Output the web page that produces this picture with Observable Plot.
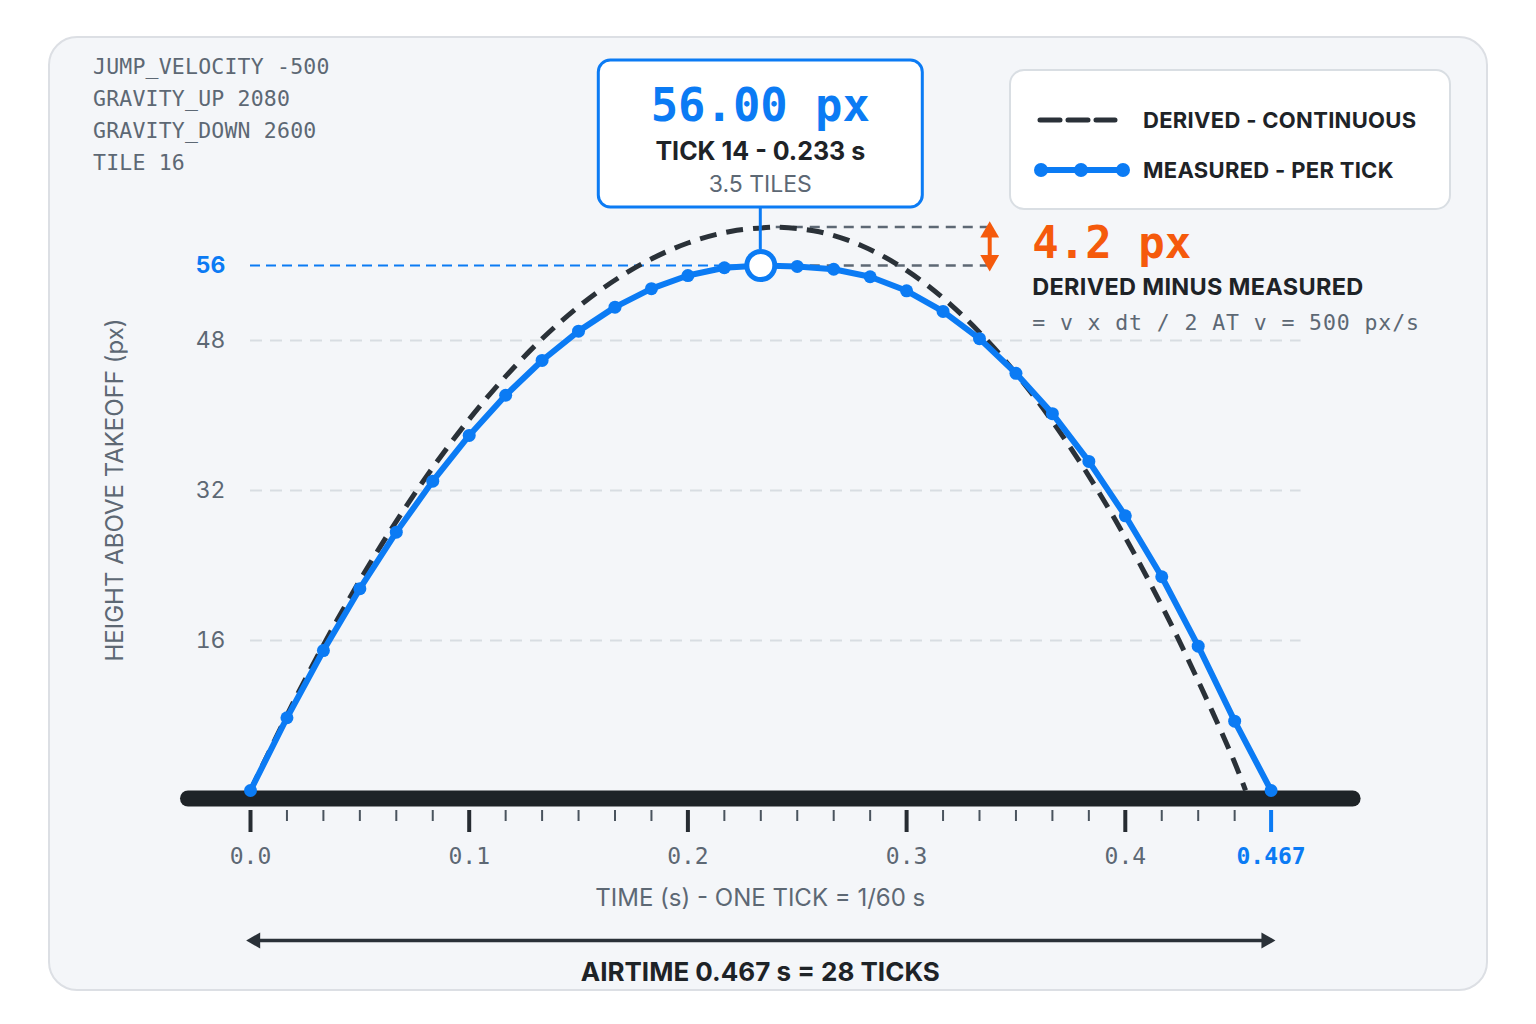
<!DOCTYPE html>
<html>
<head>
<meta charset="utf-8">
<script src="https://cdn.jsdelivr.net/npm/d3@7"></script>
<script src="https://cdn.jsdelivr.net/npm/@observablehq/plot@0.6"></script>
<style>
  html, body { margin: 0; padding: 0; background: #ffffff; }
  #wrap { position: relative; width: 1536px; height: 1024px; overflow: hidden; }
</style>
</head>
<body>
<div id="wrap"></div>
<script>
// ---------- data ----------
const TICKS_PER_SECOND = 60;
const params = ["JUMP_VELOCITY -500", "GRAVITY_UP 2080", "GRAVITY_DOWN 2600", "TILE 16"];

// measured height per tick (px above takeoff)
const measuredTick = [0,1,2,3,4,5,6,7,8,9,10,11,12,13,14,15,16,17,18,19,20,21,22,23,24,25,26,27,28];
const measuredPx   = [0,7.76,14.93,21.53,27.56,33.0,37.87,42.16,45.87,49.0,51.56,53.53,54.93,55.76,56.0,
                      55.9,55.6,54.8,53.3,51.1,48.2,44.5,40.2,35.1,29.3,22.8,15.4,7.4,0];

// derived continuous curve (time s, px)
const derivedT  = [0,0.02,0.04,0.06,0.08,0.10,0.12,0.14,0.16,0.18,0.20,0.22,0.24,0.2404,
                   0.26,0.28,0.30,0.32,0.34,0.36,0.38,0.40,0.42,0.44,0.45,0.455];
const derivedPx = [0,9.58,18.34,26.26,33.34,39.6,45.02,49.62,53.38,56.30,58.4,59.66,60.10,60.1,
                   59.60,58.06,55.48,51.86,47.20,41.50,34.77,26.99,18.17,8.31,2.99,0];

// axis ticks
const yGridTicks = [16, 32, 48];
const yPeakTick = [56];
const xMajorTicks = [0, 0.1, 0.2, 0.3, 0.4];
const xMinorTickIdx = [1,2,3,4,5,7,8,9,10,11,13,14,15,16,17,19,20,21,22,23,25,26,27];
const airtimeTick = 28;

// annotations
const peakTick = 14, peakPx = 56.0;
const derivedPeakT = 0.2404, derivedPeakPx = 60.1;
const gapT = 0.338;
const calloutValue = "56.00 px";
const calloutTick = "TICK 14 - 0.233 s";
const calloutTiles = "3.5 TILES";
const gapValue = "4.2 px";
const gapTitle = "DERIVED MINUS MEASURED";
const gapFormula = "= v x dt / 2 AT v = 500 px/s";
const legendLabels = ["DERIVED - CONTINUOUS", "MEASURED - PER TICK"];
const yTitle = "HEIGHT ABOVE TAKEOFF (px)";
const xTitle = "TIME (s) - ONE TICK = 1/60 s";
const airtimeTitle = "AIRTIME 0.467 s = 28 TICKS";

// ---------- styles ----------
const BLUE = "#0b7bf4", DARK = "#262c32", GRAY = "#5d6874", LIGHT = "#d8dde2", ORANGE = "#f55a0c";
const MONO = "'DejaVu Sans Mono', 'Liberation Mono', monospace";
const SANS = "Inter, 'Noto Sans', sans-serif";

const measured = measuredTick.map((k, i) => ({t: k / TICKS_PER_SECOND, px: measuredPx[i]}));
const derived = derivedT.map((t, i) => ({t, px: derivedPx[i]}));
const airT = airtimeTick / TICKS_PER_SECOND;
const peakT = peakTick / TICKS_PER_SECOND;
const minorTicks = xMinorTickIdx.map(k => k / TICKS_PER_SECOND);

const chart = Plot.plot({
  width: 1536,
  height: 1024,
  marginLeft: 250,
  marginRight: 1536 - 1270.6,
  marginTop: 265,
  marginBottom: 1024 - 790,
  style: {background: "none", fontFamily: MONO, fontSize: "23px", overflow: "visible"},
  x: {domain: [0, airT], axis: null},
  y: {domain: [0, 56], axis: null},
  marks: [
    // grid
    Plot.gridY(yGridTicks, {stroke: LIGHT, strokeOpacity: 1, strokeWidth: 2, strokeDasharray: "12,8", insetRight: -30}),
    Plot.ruleY(yPeakTick.map(y => ({y, x1: 0, x2: peakT})), {y: "y", x1: "x1", x2: "x2", stroke: BLUE, strokeWidth: 2, strokeDasharray: "10,6"}),
    // gap reference lines
    Plot.ruleY([{y: derivedPeakPx}, {y: peakPx}], {y: "y", x1: derivedPeakT, x2: gapT, stroke: GRAY, strokeWidth: 2.5, strokeDasharray: "10,7"}),
    // y axis labels
    Plot.axisY(yGridTicks, {anchor: "left", tickSize: 0, tickPadding: 25, fill: GRAY, label: null, fontSize: 23, fontFamily: SANS}),
    Plot.axisY(yPeakTick, {anchor: "left", tickSize: 0, tickPadding: 25, fill: BLUE, fontWeight: "bold", label: null, fontSize: 23, fontFamily: SANS}),
    // ground bar
    Plot.ruleY([0], {stroke: "#1e2327", strokeWidth: 16, strokeLinecap: "round", insetLeft: -62, insetRight: -82, dy: 8}),
    // x axis ticks
    Plot.axisX(minorTicks, {anchor: "bottom", tickSize: 11, dy: 20, strokeWidth: 2, stroke: "#4a545e", tickFormat: () => "", label: null}),
    Plot.axisX(xMajorTicks, {anchor: "bottom", tickSize: 22, dy: 20, tickPadding: 15, strokeWidth: 4, stroke: DARK, fill: GRAY, tickFormat: d3.format(".1f"), label: null, fontSize: 23}),
    Plot.axisX([airT], {anchor: "bottom", tickSize: 22, dy: 20, tickPadding: 15, strokeWidth: 4, stroke: BLUE, fill: BLUE, fontWeight: "bold", tickFormat: d3.format(".3f"), label: null, fontSize: 23}),
    // derived curve
    Plot.line(derived, {x: "t", y: "px", stroke: "#2a3138", strokeWidth: 5, strokeDasharray: "17,10", curve: "catmull-rom", strokeLinecap: "butt"}),
    // measured
    Plot.line(measured, {x: "t", y: "px", stroke: BLUE, strokeWidth: 6, strokeLinejoin: "round", strokeLinecap: "round"}),
    Plot.dot(measured, {x: "t", y: "px", r: 6.5, fill: BLUE}),
    // peak marker
    Plot.dot([{t: peakT, px: peakPx}], {x: "t", y: "px", r: 14, fill: "white", stroke: BLUE, strokeWidth: 5}),
    // orange gap marker
    Plot.ruleX([{x: gapT, y1: peakPx + 0.5, y2: derivedPeakPx - 0.5}], {x: "x", y1: "y1", y2: "y2", stroke: ORANGE, strokeWidth: 4}),
    Plot.dot([{x: gapT, y: derivedPeakPx, r: 0}], {x: "x", y: "y", rotate: "r", symbol: "triangle", r: 7, fill: ORANGE, dy: 5}),
    Plot.dot([{x: gapT, y: peakPx, r: 180}], {x: "x", y: "y", rotate: "r", symbol: "triangle", r: 7, fill: ORANGE, dy: -5}),
    // airtime arrow
    Plot.ruleY([{y: 0, x1: 0, x2: airT}], {y: "y", x1: "x1", x2: "x2", stroke: "#2a3138", strokeWidth: 3.5, dy: 150, insetLeft: 4, insetRight: 4}),
    Plot.dot([{x: 0, y: 0, r: -90}], {x: "x", y: "y", rotate: "r", symbol: "triangle", r: 6, fill: "#2a3138", dy: 150, dx: 5}),
    Plot.dot([{x: airT, y: 0, r: 90}], {x: "x", y: "y", rotate: "r", symbol: "triangle", r: 6, fill: "#2a3138", dy: 150, dx: -5})
  ]
});

document.getElementById("wrap").appendChild(chart);

// ---------- overlay: card, callout, legend, titles ----------
const svg = d3.select(chart);
const X = chart.scale("x"), Y = chart.scale("y");
const px = X.apply(peakT), py = Y.apply(peakPx);

svg.insert("rect", ":first-child")
  .attr("x", 49).attr("y", 37).attr("width", 1438).attr("height", 953).attr("rx", 28)
  .attr("fill", "#f4f6f9").attr("stroke", "#dcdfe4").attr("stroke-width", 2);

function T(x, y, s, o = {}) {
  return svg.append("text").attr("x", x).attr("y", y).text(s)
    .attr("font-family", o.mono ? MONO : SANS)
    .attr("font-size", o.size || 22)
    .attr("font-weight", o.weight || 400)
    .attr("fill", o.fill || GRAY)
    .attr("text-anchor", o.anchor || "start")
    .attr("letter-spacing", o.ls || 0);
}

// parameters block
params.forEach((p, i) => T(93, 74 + i * 32, p, {mono: true, size: 21.5, fill: GRAY, ls: 0.2}));

// callout
svg.append("line").attr("x1", px).attr("x2", px).attr("y1", 207).attr("y2", py - 16)
  .attr("stroke", BLUE).attr("stroke-width", 3);
svg.append("rect").attr("x", px - 162).attr("y", 60).attr("width", 324).attr("height", 147).attr("rx", 12)
  .attr("fill", "white").attr("stroke", BLUE).attr("stroke-width", 3);
T(px, 121, calloutValue, {mono: true, size: 45.5, weight: 700, fill: BLUE, anchor: "middle"});
T(px, 160, calloutTick, {size: 25, weight: 700, fill: "#1e2327", anchor: "middle"});
T(px, 192, calloutTiles, {size: 23, weight: 400, fill: GRAY, anchor: "middle"});

// legend
svg.append("rect").attr("x", 1010).attr("y", 70).attr("width", 440).attr("height", 139).attr("rx", 14)
  .attr("fill", "white").attr("stroke", "#d9dee3").attr("stroke-width", 2);
svg.append("line").attr("x1", 1040).attr("x2", 1115).attr("y1", 120).attr("y2", 120)
  .attr("stroke", "#2a3138").attr("stroke-width", 5).attr("stroke-dasharray", "20,8").attr("stroke-linecap", "round");
svg.append("line").attr("x1", 1041).attr("x2", 1123).attr("y1", 170).attr("y2", 170)
  .attr("stroke", BLUE).attr("stroke-width", 6);
[1041, 1081, 1123].forEach(cx => svg.append("circle").attr("cx", cx).attr("cy", 170).attr("r", 7).attr("fill", BLUE));
T(1143, 128, legendLabels[0], {size: 22, weight: 700, fill: "#1e2327", ls: 0.3});
T(1143, 178, legendLabels[1], {size: 22, weight: 700, fill: "#1e2327", ls: 0.3});

// gap annotation
const gx = X.apply(gapT);
T(gx + 43, 258, gapValue, {mono: true, size: 44, weight: 700, fill: ORANGE});
T(gx + 43, 295, gapTitle, {size: 23.5, weight: 700, fill: "#1e2327", ls: 0.3});
T(gx + 43, 330, gapFormula, {mono: true, size: 21.5, fill: GRAY, ls: 0.9});

// axis titles
svg.append("text").attr("transform", "translate(123,490) rotate(-90)").text(yTitle)
  .attr("font-family", SANS).attr("font-size", 24).attr("fill", GRAY).attr("text-anchor", "middle");
const cx0 = (X.apply(0) + X.apply(airT)) / 2;
T(cx0, 906, xTitle, {size: 24, fill: GRAY, anchor: "middle"});
T(cx0, 981, airtimeTitle, {size: 26, weight: 700, fill: "#1e2327", anchor: "middle"});
</script>
</body>
</html>
